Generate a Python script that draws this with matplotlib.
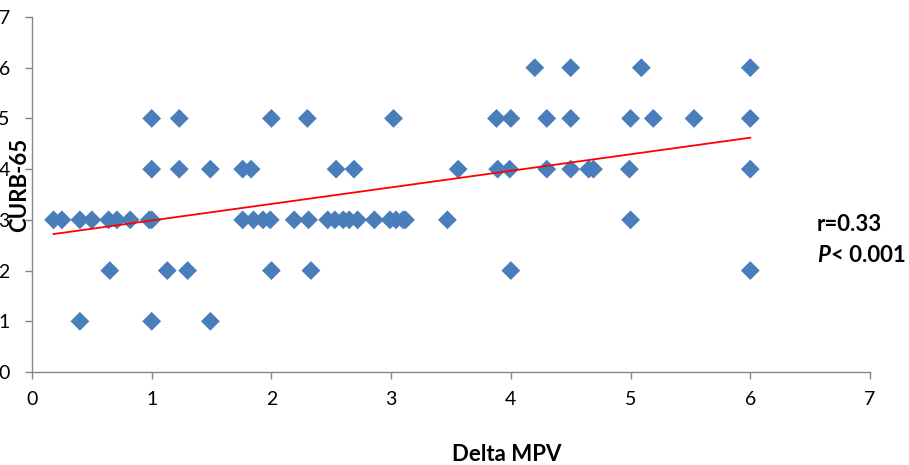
import numpy as np
import matplotlib
matplotlib.use("Agg")
import matplotlib.pyplot as plt

plt.rcParams['font.family'] = ['Lato', 'DejaVu Sans']

# Delta MPV (x) and CURB-65 (y)
delta_mpv = [
    # CURB-65 = 1
    0.40, 1.00, 1.49,
    # CURB-65 = 2
    0.65, 1.13, 1.30, 2.00, 2.33, 4.00, 6.00,
    # CURB-65 = 3
    0.18, 0.25, 0.40, 0.50, 0.64, 0.71, 0.82, 0.98, 1.00, 1.76, 1.85, 1.93,
    1.99, 2.19, 2.31, 2.47, 2.53, 2.60, 2.65, 2.72, 2.86, 2.99, 3.04, 3.10,
    3.12, 3.47, 5.00,
    # CURB-65 = 4
    1.00, 1.23, 1.49, 1.76, 1.83, 2.54, 2.69, 3.56, 3.89, 3.99, 4.30, 4.50,
    4.65, 4.69, 4.99, 6.00,
    # CURB-65 = 5
    1.00, 1.23, 2.00, 2.30, 3.02, 3.88, 4.00, 4.30, 4.50, 5.00, 5.19, 5.53,
    6.00,
    # CURB-65 = 6
    4.20, 4.50, 5.09, 6.00,
]
curb65 = [1] * 3 + [2] * 7 + [3] * 27 + [4] * 16 + [5] * 13 + [6] * 4

# linear trend line end points
trend_x = [0.18, 6.0]
trend_y = [2.72, 4.62]

x_ticks = [0, 1, 2, 3, 4, 5, 6, 7]
y_ticks = [0, 1, 2, 3, 4, 5, 6, 7]

fig = plt.figure(figsize=(9.09, 4.65), dpi=100)
ax = fig.add_axes([32 / 909, 1 - 372 / 465, 838 / 909, 355 / 465])

ax.scatter(delta_mpv, curb65, marker='D', s=92, color='#4A7EBB',
           edgecolors='none', zorder=3, clip_on=False)
ax.plot(trend_x, trend_y, color='#FF0000', lw=1.3, zorder=4)

ax.set_xlim(0, 7)
ax.set_ylim(0, 7)
ax.set_xticks(x_ticks)
ax.set_yticks(y_ticks)
ax.tick_params(axis='both', direction='out', length=5, width=1,
               color='#868686', labelsize=14, labelcolor='black')
ax.tick_params(axis='y', pad=11)
ax.tick_params(axis='x', pad=9)

for side in ['top', 'right']:
    ax.spines[side].set_visible(False)
for side in ['left', 'bottom']:
    ax.spines[side].set_color('#868686')
    ax.spines[side].set_linewidth(1)

fig.text(20 / 909, 1 - 185 / 465, 'CURB-65', rotation=90, fontsize=16,
         fontweight='bold', ha='center', va='center')
fig.text(507 / 909, 1 - 454 / 465, 'Delta MPV', fontsize=16,
         fontweight='bold', ha='center', va='center')

fig.text(817 / 909, 1 - 224 / 465, 'r=0.33', fontsize=16,
         fontweight='bold', ha='left', va='center')
fig.text(817 / 909, 1 - 255 / 465, 'P', fontsize=16, fontweight='bold',
         fontstyle='italic', ha='left', va='center')
fig.text(831 / 909, 1 - 255 / 465, '< 0.001', fontsize=16,
         fontweight='bold', ha='left', va='center')

fig.savefig('out.png', dpi=100)
